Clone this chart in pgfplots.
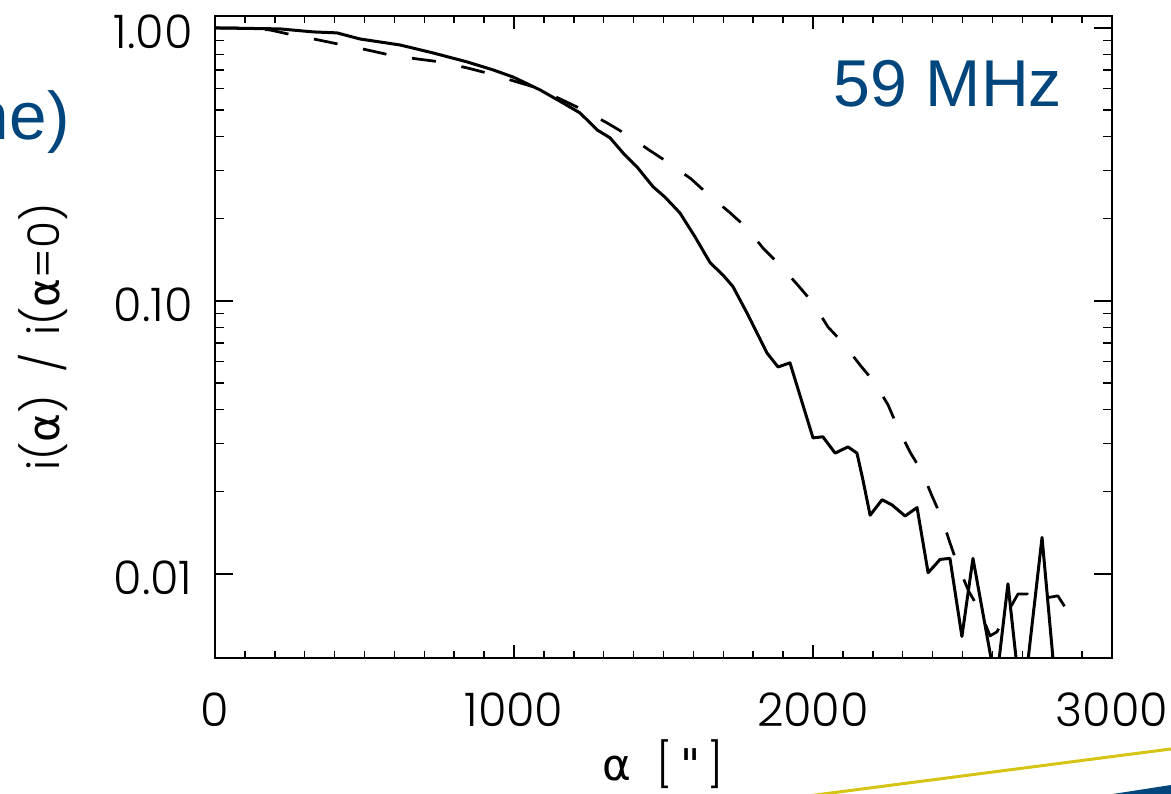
\documentclass[border=0pt]{standalone}
\usepackage{pgfplots}
\pgfplotsset{compat=1.18}
\usepackage{fontspec}
\setmainfont{Poppins Light}
\newfontfamily\greekfont{DejaVu Sans}
\newfontfamily\slidefont{Liberation Sans}
\definecolor{slideblue}{RGB}{0,69,124}
\definecolor{slideyellow}{RGB}{214,196,20}

% measured intensity profile
\pgfplotstableread{
x y
0    1.000
217  0.992
328  0.967
408  0.959
485  0.911
619  0.866
729  0.810
843  0.751
930  0.702
997  0.661
1087 0.593
1164 0.531
1221 0.488
1278 0.423
1321 0.396
1365 0.348
1411 0.310
1465 0.262
1505 0.240
1555 0.210
1605 0.172
1656 0.138
1700 0.124
1732 0.113
1779 0.0904
1846 0.0645
1883 0.0573
1923 0.0593
2000 0.0315
2033 0.0318
2074 0.0277
2117 0.0292
2147 0.0277
2167 0.0221
2191 0.0164
2231 0.0187
2264 0.0179
2308 0.0163
2348 0.0175
2385 0.0101
2425 0.0113
2458 0.0114
2498 0.0059
2535 0.0114
2612 0.0039
2652 0.0092
2699 0.0031
2766 0.0136
2819 0.0031
}\measured

% model profile
\pgfplotstableread{
x y
0    1.000
117  0.998
184  0.983
258  0.943
345  0.904
425  0.867
508  0.831
585  0.796
676  0.770
753  0.751
843  0.714
920  0.679
1010 0.634
1077 0.603
1161 0.545
1231 0.501
1311 0.449
1378 0.406
1452 0.357
1518 0.320
1592 0.280
1652 0.244
1719 0.212
1779 0.185
1833 0.156
1890 0.135
1950 0.114
2000 0.0983
2050 0.0803
2100 0.0702
2157 0.0583
2207 0.0501
2251 0.0416
2284 0.0343
2324 0.0280
2365 0.0236
2398 0.0193
2431 0.0160
2458 0.0130
2485 0.0107
2522 0.00859
2559 0.00732
2592 0.00593
2615 0.00613
2642 0.00696
2686 0.00845
2716 0.00845
2742 0.00770
2779 0.00817
2819 0.00831
2853 0.00726
}\model

\begin{document}
\begin{tikzpicture}
\useasboundingbox (-86pt,-54.4pt) rectangle (382.4pt,263.2pt);
\clip (-86pt,-54.4pt) rectangle (382.4pt,263.2pt);
\begin{axis}[
  scale only axis,
  width=358.8pt, height=256.8pt,
  ymode=log,
  xmin=0, xmax=3000,
  ymin=0.00492, ymax=1.106,
  xtick={0,1000,2000,3000},
  xticklabels={0,1000,2000,3000},
  minor x tick num=9,
  ytick={0.01,0.1,1},
  yticklabels={0.01,0.10,1.00},
  tick align=inside,
  axis line style={line width=0.6pt},
  every tick/.style={black, line width=0.6pt},
  major tick length=7.2pt,
  minor tick length=3.6pt,
  xtick style={/pgfplots/major tick length=5.2pt,/pgfplots/minor tick length=2.8pt},
  tick label style={font=\fontsize{18.5}{21}\selectfont},
  xticklabel style={anchor=north, inner sep=0pt, yshift=-13.6pt},
  yticklabel style={anchor=east, inner sep=0pt, xshift=-8.8pt, yshift=-1.6pt},
  label style={font=\fontsize{17.5}{21}\selectfont},
  xlabel={{\greekfont α}\hspace{10pt}[\hspace{3pt}{\greekfont "}\hspace{3pt}]},
  xlabel style={at={(axis description cs:0.5,-0.166)}, anchor=center},
  ylabel={i({\greekfont α})\hspace{9pt}/\hspace{7pt}i({\greekfont α}=0)},
  ylabel style={at={(axis description cs:-0.1918,0.5)}, anchor=center, rotate=0},
]
\addplot[black, line width=1.2pt, line join=round] table[x=x, y=y] {\measured};
\addplot[black, line width=1.1pt, line join=round, dash pattern=on 9.6pt off 10.4pt] table[x=x, y=y] {\model};
\end{axis}
\node[anchor=base, inner sep=0pt, text=slideblue, font=\slidefont\fontsize{26.5}{30}\selectfont] at (293.2pt,220.4pt) {59 MHz};
\node[anchor=base east, inner sep=0pt, text=slideblue, font=\slidefont\fontsize{27}{30}\selectfont] at (-58pt,207.2pt) {ne)};
\fill[slideblue] (354pt,-55.2pt) -- (394pt,-49pt) -- (394pt,-60pt) -- (354pt,-60pt) -- cycle;
\draw[slideyellow, line width=1.2pt] (234pt,-55.6pt) -- (390pt,-35.4pt);
\end{tikzpicture}
\end{document}
